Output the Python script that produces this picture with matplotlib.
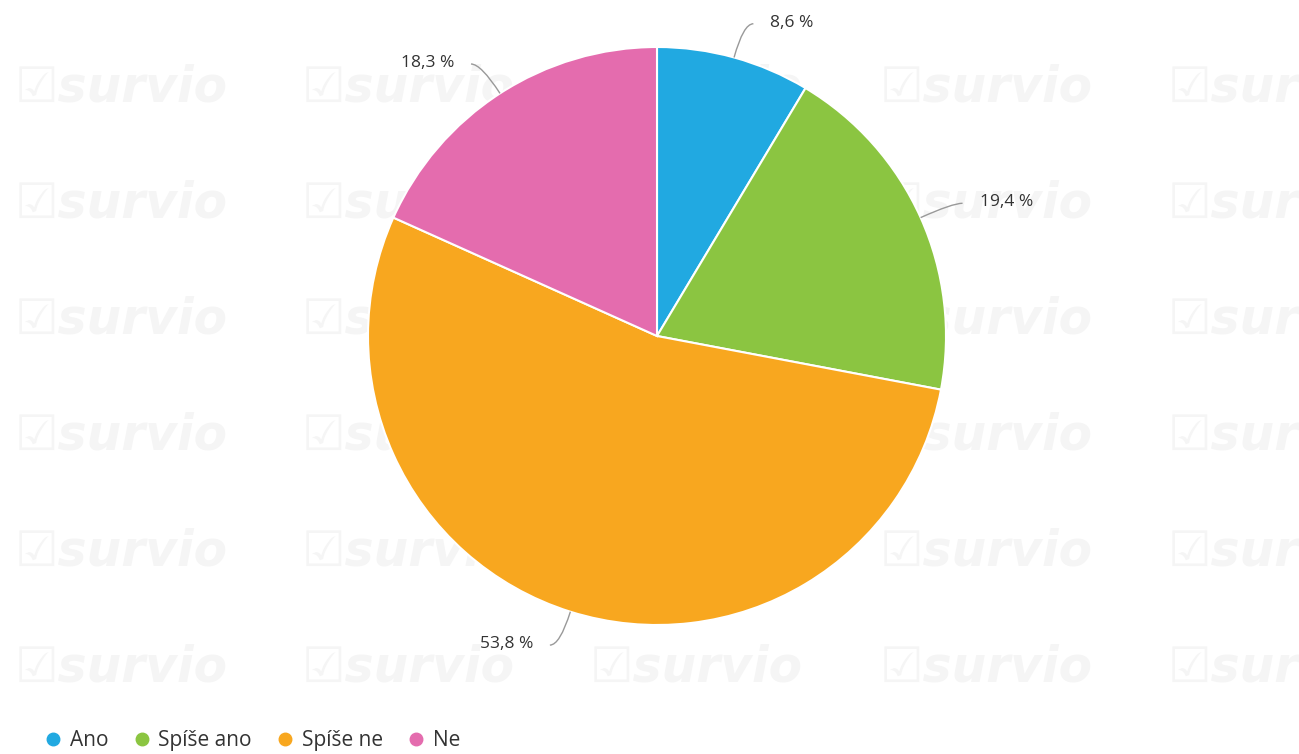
import matplotlib.pyplot as plt
import numpy as np
from matplotlib.path import Path
from matplotlib.patches import PathPatch
from matplotlib.lines import Line2D

labels = ['Ano', 'Spíše ano', 'Spíše ne', 'Ne']
values = [8.6, 19.4, 53.8, 18.3]
colors = ['#21a9e1', '#8bc541', '#f8a71f', '#e46cae']

W, H = 1299, 754
fig = plt.figure(figsize=(W / 100, H / 100), dpi=100)
ax = fig.add_axes([0, 0, 1, 1])

# watermark
for wx in [15, 302, 590, 880, 1168]:
    for wy in [87, 203, 320, 436, 552, 668]:
        ax.text(wx, H - wy, '☑survio', fontsize=35, fontweight='bold', style='italic',
                color='#f5f5f5', va='center', ha='left', zorder=0, family='DejaVu Sans',
                clip_on=True)

cx, cy, r = 657, H - 336, 289
wedges, _ = ax.pie(values, colors=colors, startangle=90, counterclock=False,
                   center=(cx, cy), radius=r, frame=True,
                   wedgeprops=dict(edgecolor='white', linewidth=1.5))
for w in wedges:
    w.set_zorder(2)
ax.set_xlim(0, W)
ax.set_ylim(0, H)
ax.set_aspect('equal')
ax.axis('off')

# labels with leader lines
total = sum(values)
cum = 0
for v in values:
    mid = 90 - (cum + v / 2) / total * 360
    cum += v
    a = np.radians(mid)
    p0 = (cx + r * np.cos(a), cy + r * np.sin(a))
    p1 = (cx + (r + 35) * np.cos(a), cy + (r + 35) * np.sin(a))
    side = 1 if np.cos(a) >= 0 else -1
    p2 = (p1[0] + side * 10, p1[1])
    path = Path([p0, p1, p2], [Path.MOVETO, Path.CURVE3, Path.CURVE3])
    ax.add_patch(PathPatch(path, fill=False, edgecolor='#999999', linewidth=1, zorder=3))
    txt = ('%.1f %%' % v).replace('.', ',')
    ax.text(p2[0] + side * 17, p2[1] + 1, txt, fontsize=12.5, color='#333333',
            ha='left' if side > 0 else 'right', va='center', family='Open Sans', zorder=4)

handles = [Line2D([], [], marker='o', linestyle='', markersize=9,
                  markerfacecolor=c, markeredgecolor=c) for c in colors]
leg = ax.legend(handles, labels, loc='lower left', bbox_to_anchor=(0.0264, -0.0076),
                ncol=4, frameon=False, handlelength=1.0, handletextpad=0.3,
                columnspacing=1.1, borderaxespad=0,
                prop={'family': 'Open Sans', 'size': 15})
for t in leg.get_texts():
    t.set_color('#333333')

fig.savefig('out.png', dpi=100, facecolor='white')
